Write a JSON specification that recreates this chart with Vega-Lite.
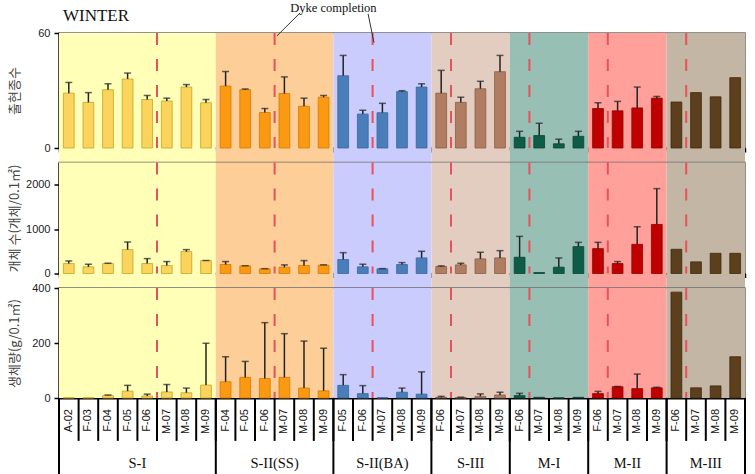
{
  "$schema": "https://vega.github.io/schema/vega-lite/v6.json",
  "padding": {"left": 7, "top": 1, "right": 5, "bottom": 0},
  "config": {
    "font": "Liberation Sans",
    "view": {"stroke": "#6e6e6e", "strokeWidth": 1.5},
    "axis": {"grid": false, "domainColor": "black", "domainWidth": 2, "tickColor": "black", "tickWidth": 1.5, "labelFont": "Liberation Sans", "labelFontSize": 11, "labelColor": "#222", "labelOverlap": false, "labelSeparation": -1000, "zindex": 1, "titleFont": "Noto Sans CJK KR", "titleFontSize": 13, "titleFontWeight": "normal", "titleColor": "#444"},
    "axisY": {"tickSize": 5, "labelPadding": 4, "minExtent": 34, "titlePadding": 4}
  },
  "datasets": {
    "st": [
      {"g": "S-I", "s": "A-02", "id": "S-I|A-02", "sp": 28.6, "spHi": 34.2, "ab": 224, "abHi": 284, "bm": 1, "bmHi": null},
      {"g": "S-I", "s": "F-03", "id": "S-I|F-03", "sp": 23.8, "spHi": 28.9, "ab": 150, "abHi": 209, "bm": 1, "bmHi": null},
      {"g": "S-I", "s": "F-04", "id": "S-I|F-04", "sp": 30.4, "spHi": 33.5, "ab": 224, "abHi": 232, "bm": 9, "bmHi": 11},
      {"g": "S-I", "s": "F-05", "id": "S-I|F-05", "sp": 36.0, "spHi": 39.1, "ab": 538, "abHi": 710, "bm": 25, "bmHi": 46},
      {"g": "S-I", "s": "F-06", "id": "S-I|F-06", "sp": 25.3, "spHi": 27.4, "ab": 224, "abHi": 336, "bm": 7.5, "bmHi": 14},
      {"g": "S-I", "s": "M-07", "id": "S-I|M-07", "sp": 24.5, "spHi": 26.0, "ab": 179, "abHi": 269, "bm": 22, "bmHi": 49},
      {"g": "S-I", "s": "M-08", "id": "S-I|M-08", "sp": 31.8, "spHi": 33.1, "ab": 493, "abHi": 538, "bm": 19, "bmHi": 36},
      {"g": "S-I", "s": "M-09", "id": "S-I|M-09", "sp": 23.6, "spHi": 25.3, "ab": 291, "abHi": 293, "bm": 47, "bmHi": 199},
      {"g": "S-II(SS)", "s": "F-04", "id": "S-II(SS)|F-04", "sp": 32.3, "spHi": 39.9, "ab": 202, "abHi": 269, "bm": 59, "bmHi": 150},
      {"g": "S-II(SS)", "s": "F-05", "id": "S-II(SS)|F-05", "sp": 30.4, "spHi": 30.8, "ab": 172, "abHi": 175, "bm": 75, "bmHi": 133},
      {"g": "S-II(SS)", "s": "F-06", "id": "S-II(SS)|F-06", "sp": 18.5, "spHi": 20.6, "ab": 105, "abHi": 108, "bm": 71, "bmHi": 274},
      {"g": "S-II(SS)", "s": "M-07", "id": "S-II(SS)|M-07", "sp": 28.4, "spHi": 37.1, "ab": 142, "abHi": 194, "bm": 75, "bmHi": 234},
      {"g": "S-II(SS)", "s": "M-08", "id": "S-II(SS)|M-08", "sp": 21.8, "spHi": 26.0, "ab": 179, "abHi": 291, "bm": 36, "bmHi": 207},
      {"g": "S-II(SS)", "s": "M-09", "id": "S-II(SS)|M-09", "sp": 26.5, "spHi": 27.4, "ab": 187, "abHi": 195, "bm": 26, "bmHi": 181},
      {"g": "S-II(BA)", "s": "F-05", "id": "S-II(BA)|F-05", "sp": 37.7, "spHi": 48.3, "ab": 314, "abHi": 470, "bm": 46, "bmHi": 85},
      {"g": "S-II(BA)", "s": "F-06", "id": "S-II(BA)|F-06", "sp": 17.7, "spHi": 19.7, "ab": 150, "abHi": 209, "bm": 16, "bmHi": 45},
      {"g": "S-II(BA)", "s": "M-07", "id": "S-II(BA)|M-07", "sp": 18.4, "spHi": 23.3, "ab": 105, "abHi": 110, "bm": 1, "bmHi": null},
      {"g": "S-II(BA)", "s": "M-08", "id": "S-II(BA)|M-08", "sp": 29.4, "spHi": 29.9, "ab": 202, "abHi": 246, "bm": 21, "bmHi": 36},
      {"g": "S-II(BA)", "s": "M-09", "id": "S-II(BA)|M-09", "sp": 31.8, "spHi": 33.5, "ab": 351, "abHi": 500, "bm": 14, "bmHi": 95},
      {"g": "S-III", "s": "F-06", "id": "S-III|F-06", "sp": 28.6, "spHi": 40.5, "ab": 157, "abHi": 172, "bm": 2.5, "bmHi": 6},
      {"g": "S-III", "s": "M-07", "id": "S-III|M-07", "sp": 23.8, "spHi": 26.5, "ab": 194, "abHi": 231, "bm": 1.5, "bmHi": 3},
      {"g": "S-III", "s": "M-08", "id": "S-III|M-08", "sp": 30.9, "spHi": 34.8, "ab": 329, "abHi": 478, "bm": 6, "bmHi": 15},
      {"g": "S-III", "s": "M-09", "id": "S-III|M-09", "sp": 39.8, "spHi": 48.3, "ab": 351, "abHi": 515, "bm": 11, "bmHi": 21},
      {"g": "M-I", "s": "F-06", "id": "M-I|F-06", "sp": 5.6, "spHi": 8.7, "ab": 366, "abHi": 836, "bm": 8.7, "bmHi": 17},
      {"g": "M-I", "s": "M-07", "id": "M-I|M-07", "sp": 6.5, "spHi": 12.9, "ab": 22, "abHi": null, "bm": 2.5, "bmHi": null},
      {"g": "M-I", "s": "M-08", "id": "M-I|M-08", "sp": 2.2, "spHi": 4.6, "ab": 142, "abHi": 351, "bm": 0.5, "bmHi": null},
      {"g": "M-I", "s": "M-09", "id": "M-I|M-09", "sp": 6.1, "spHi": 8.7, "ab": 605, "abHi": 702, "bm": 2.5, "bmHi": null},
      {"g": "M-II", "s": "F-06", "id": "M-II|F-06", "sp": 20.6, "spHi": 23.6, "ab": 560, "abHi": 702, "bm": 16, "bmHi": 24},
      {"g": "M-II", "s": "M-07", "id": "M-II|M-07", "sp": 19.4, "spHi": 24.3, "ab": 224, "abHi": 269, "bm": 41, "bmHi": 42},
      {"g": "M-II", "s": "M-08", "id": "M-II|M-08", "sp": 20.9, "spHi": 31.8, "ab": 657, "abHi": 1053, "bm": 34, "bmHi": 87},
      {"g": "M-II", "s": "M-09", "id": "M-II|M-09", "sp": 26.0, "spHi": 26.9, "ab": 1105, "abHi": 1912, "bm": 37, "bmHi": 39},
      {"g": "M-III", "s": "F-06", "id": "M-III|F-06", "sp": 24.0, "spHi": null, "ab": 545, "abHi": null, "bm": 385, "bmHi": null},
      {"g": "M-III", "s": "M-07", "id": "M-III|M-07", "sp": 28.9, "spHi": null, "ab": 262, "abHi": null, "bm": 37, "bmHi": null},
      {"g": "M-III", "s": "M-08", "id": "M-III|M-08", "sp": 26.7, "spHi": null, "ab": 455, "abHi": null, "bm": 44, "bmHi": null},
      {"g": "M-III", "s": "M-09", "id": "M-III|M-09", "sp": 36.7, "spHi": null, "ab": 455, "abHi": null, "bm": 150, "bmHi": null}
    ],
    "grp": [
      {"g": "S-I", "first": "S-I|A-02", "last": "S-I|M-09", "dyke": "S-I|M-07", "mid": "S-I|F-06"},
      {"g": "S-II(SS)", "first": "S-II(SS)|F-04", "last": "S-II(SS)|M-09", "dyke": "S-II(SS)|M-07", "mid": "S-II(SS)|M-07"},
      {"g": "S-II(BA)", "first": "S-II(BA)|F-05", "last": "S-II(BA)|M-09", "dyke": "S-II(BA)|M-07", "mid": "S-II(BA)|M-07"},
      {"g": "S-III", "first": "S-III|F-06", "last": "S-III|M-09", "dyke": "S-III|M-07", "mid": "S-III|M-08"},
      {"g": "M-I", "first": "M-I|F-06", "last": "M-I|M-09", "dyke": "M-I|M-07", "mid": "M-I|M-08"},
      {"g": "M-II", "first": "M-II|F-06", "last": "M-II|M-09", "dyke": "M-II|M-07", "mid": "M-II|M-08"},
      {"g": "M-III", "first": "M-III|F-06", "last": "M-III|M-09", "dyke": "M-III|M-07", "mid": "M-III|M-08"}
    ]
  },
  "spacing": 14.5,
  "bounds": "flush",
  "resolve": {"scale": {"x": "independent", "y": "independent", "color": "independent", "fill": "independent", "stroke": "independent"}},
  "vconcat": [
    {
      "width": 686, "height": 115,
      "layer": [
        {"data": {"name": "grp"}, "mark": {"type": "rect"},
         "encoding": {"x": {"field": "first", "type": "nominal", "bandPosition": 0}, "x2": {"field": "last", "bandPosition": 1},
                      "y": {"datum": 60, "type": "quantitative"}, "y2": {"datum": -7.4},
                      "color": {"field": "g", "type": "nominal", "scale": {"domain": ["S-I","S-II(SS)","S-II(BA)","S-III","M-I","M-II","M-III"], "range": ["#FFFFB8","#FDCE98","#CACCFD","#E3CDC0","#98BFB4","#FFA19A","#C3B6A5"]}, "legend": null}}},
        {"data": {"name": "grp"}, "mark": {"type": "rule", "color": "#E8505A", "strokeWidth": 2, "strokeDash": [12, 14]},
         "encoding": {"x": {"field": "dyke", "type": "nominal", "bandPosition": 0}, "y": {"datum": 60}, "y2": {"datum": 0}}},
        {"data": {"name": "st"}, "mark": {"type": "bar", "width": {"band": 0.55}, "strokeWidth": 0.8},
         "encoding": {
           "x": {"field": "id", "type": "nominal", "scale": {"domain": ["S-I|A-02","S-I|F-03","S-I|F-04","S-I|F-05","S-I|F-06","S-I|M-07","S-I|M-08","S-I|M-09","S-II(SS)|F-04","S-II(SS)|F-05","S-II(SS)|F-06","S-II(SS)|M-07","S-II(SS)|M-08","S-II(SS)|M-09","S-II(BA)|F-05","S-II(BA)|F-06","S-II(BA)|M-07","S-II(BA)|M-08","S-II(BA)|M-09","S-III|F-06","S-III|M-07","S-III|M-08","S-III|M-09","M-I|F-06","M-I|M-07","M-I|M-08","M-I|M-09","M-II|F-06","M-II|M-07","M-II|M-08","M-II|M-09","M-III|F-06","M-III|M-07","M-III|M-08","M-III|M-09"], "paddingInner": 0, "paddingOuter": 0},
                 "axis": {"title": null, "labels": false, "tickBand": "extent", "tickSize": 4}},
           "y": {"field": "sp", "type": "quantitative", "scale": {"domain": [0, 60], "nice": false}, "axis": {"title": "출현종수", "values": [0, 20, 40, 60], "labelOverlap": false, "labelSeparation": -1000, "format": "d"}},
           "fill": {"field": "g", "type": "nominal", "scale": {"domain": ["S-I","S-II(SS)","S-II(BA)","S-III","M-I","M-II","M-III"], "range": ["#FAD45C","#FB9A12","#4A7EBB","#B07D62","#0E5C45","#C00000","#5C3F1C"]}, "legend": null},
           "stroke": {"field": "g", "type": "nominal", "scale": {"domain": ["S-I","S-II(SS)","S-II(BA)","S-III","M-I","M-II","M-III"], "range": ["#C9A227","#D07A00","#3A6699","#8A5E48","#0A4535","#900000","#40290E"]}, "legend": null}}},
        {"data": {"name": "st"}, "transform": [{"filter": "datum.spHi != null"}], "mark": {"type": "rule", "color": "#222", "strokeWidth": 1.5},
         "encoding": {"x": {"field": "id", "type": "nominal"}, "y": {"field": "sp", "type": "quantitative"}, "y2": {"field": "spHi"}}},
        {"data": {"name": "st"}, "transform": [{"filter": "datum.spHi != null"}], "mark": {"type": "tick", "color": "#222", "size": 7, "thickness": 1.5},
         "encoding": {"x": {"field": "id", "type": "nominal"}, "y": {"field": "spHi", "type": "quantitative"}}},
        {"data": {"values": [{"t": "WINTER"}]}, "mark": {"type": "text", "font": "Liberation Serif", "fontSize": 17, "color": "#111", "align": "left", "baseline": "middle"},
         "encoding": {"x": {"datum": "S-I|A-02", "type": "nominal", "bandPosition": 0.2}, "y": {"datum": 69}, "text": {"field": "t"}}},
        {"data": {"values": [{"t": "Dyke completion"}]}, "mark": {"type": "text", "font": "Liberation Serif", "fontSize": 12.5, "color": "#111", "baseline": "middle"},
         "encoding": {"x": {"datum": "S-II(BA)|F-05", "type": "nominal", "bandPosition": 0}, "y": {"datum": 73}, "text": {"field": "t"}}},
        {"data": {"values": [{}]}, "mark": {"type": "rule", "color": "#333", "strokeWidth": 1},
         "encoding": {"x": {"datum": "S-II(SS)|M-07", "type": "nominal", "bandPosition": 0.12}, "x2": {"datum": "S-II(SS)|M-08", "bandPosition": 0.3}, "y": {"datum": 58.5}, "y2": {"datum": 70.5}}},
        {"data": {"values": [{}]}, "mark": {"type": "rule", "color": "#333", "strokeWidth": 1},
         "encoding": {"x": {"datum": "S-II(BA)|M-07", "type": "nominal", "bandPosition": 0.07}, "x2": {"datum": "S-II(BA)|F-06", "bandPosition": 0.77}, "y": {"datum": 55}, "y2": {"datum": 70}}}
      ]
    },
    {
      "width": 686, "height": 111,
      "layer": [
        {"data": {"name": "grp"}, "mark": {"type": "rect"},
         "encoding": {"x": {"field": "first", "type": "nominal", "bandPosition": 0}, "x2": {"field": "last", "bandPosition": 1},
                      "y": {"datum": 2500, "type": "quantitative"}, "y2": {"datum": -326},
                      "color": {"field": "g", "type": "nominal", "scale": {"domain": ["S-I","S-II(SS)","S-II(BA)","S-III","M-I","M-II","M-III"], "range": ["#FFFFB8","#FDCE98","#CACCFD","#E3CDC0","#98BFB4","#FFA19A","#C3B6A5"]}, "legend": null}}},
        {"data": {"name": "grp"}, "mark": {"type": "rule", "color": "#E8505A", "strokeWidth": 2, "strokeDash": [12, 14]},
         "encoding": {"x": {"field": "dyke", "type": "nominal", "bandPosition": 0}, "y": {"datum": 2500}, "y2": {"datum": 0}}},
        {"data": {"name": "st"}, "mark": {"type": "bar", "width": {"band": 0.55}, "strokeWidth": 0.8},
         "encoding": {
           "x": {"field": "id", "type": "nominal", "scale": {"domain": ["S-I|A-02","S-I|F-03","S-I|F-04","S-I|F-05","S-I|F-06","S-I|M-07","S-I|M-08","S-I|M-09","S-II(SS)|F-04","S-II(SS)|F-05","S-II(SS)|F-06","S-II(SS)|M-07","S-II(SS)|M-08","S-II(SS)|M-09","S-II(BA)|F-05","S-II(BA)|F-06","S-II(BA)|M-07","S-II(BA)|M-08","S-II(BA)|M-09","S-III|F-06","S-III|M-07","S-III|M-08","S-III|M-09","M-I|F-06","M-I|M-07","M-I|M-08","M-I|M-09","M-II|F-06","M-II|M-07","M-II|M-08","M-II|M-09","M-III|F-06","M-III|M-07","M-III|M-08","M-III|M-09"], "paddingInner": 0, "paddingOuter": 0},
                 "axis": {"title": null, "labels": false, "tickBand": "extent", "tickSize": 4}},
           "y": {"field": "ab", "type": "quantitative", "scale": {"domain": [0, 2500], "nice": false}, "axis": {"title": "개체 수(개체/0.1㎡)", "values": [0, 500, 1000, 1500, 2000, 2500], "labelOverlap": false, "labelSeparation": -1000, "format": "d"}},
           "fill": {"field": "g", "type": "nominal", "scale": {"domain": ["S-I","S-II(SS)","S-II(BA)","S-III","M-I","M-II","M-III"], "range": ["#FAD45C","#FB9A12","#4A7EBB","#B07D62","#0E5C45","#C00000","#5C3F1C"]}, "legend": null},
           "stroke": {"field": "g", "type": "nominal", "scale": {"domain": ["S-I","S-II(SS)","S-II(BA)","S-III","M-I","M-II","M-III"], "range": ["#C9A227","#D07A00","#3A6699","#8A5E48","#0A4535","#900000","#40290E"]}, "legend": null}}},
        {"data": {"name": "st"}, "transform": [{"filter": "datum.abHi != null"}], "mark": {"type": "rule", "color": "#222", "strokeWidth": 1.5},
         "encoding": {"x": {"field": "id", "type": "nominal"}, "y": {"field": "ab", "type": "quantitative"}, "y2": {"field": "abHi"}}},
        {"data": {"name": "st"}, "transform": [{"filter": "datum.abHi != null"}], "mark": {"type": "tick", "color": "#222", "size": 7, "thickness": 1.5},
         "encoding": {"x": {"field": "id", "type": "nominal"}, "y": {"field": "abHi", "type": "quantitative"}}}
      ]
    },
    {
      "width": 686, "height": 110,
      "layer": [
        {"data": {"name": "grp"}, "mark": {"type": "rect"},
         "encoding": {"x": {"field": "first", "type": "nominal", "bandPosition": 0}, "x2": {"field": "last", "bandPosition": 1},
                      "y": {"datum": 400, "type": "quantitative"}, "y2": {"datum": 0},
                      "color": {"field": "g", "type": "nominal", "scale": {"domain": ["S-I","S-II(SS)","S-II(BA)","S-III","M-I","M-II","M-III"], "range": ["#FFFFB8","#FDCE98","#CACCFD","#E3CDC0","#98BFB4","#FFA19A","#C3B6A5"]}, "legend": null}}},
        {"data": {"name": "grp"}, "mark": {"type": "rule", "color": "#E8505A", "strokeWidth": 2, "strokeDash": [12, 14]},
         "encoding": {"x": {"field": "dyke", "type": "nominal", "bandPosition": 0}, "y": {"datum": 400}, "y2": {"datum": 0}}},
        {"data": {"name": "st"}, "mark": {"type": "bar", "width": {"band": 0.55}, "strokeWidth": 0.8},
         "encoding": {
           "x": {"field": "id", "type": "nominal", "scale": {"domain": ["S-I|A-02","S-I|F-03","S-I|F-04","S-I|F-05","S-I|F-06","S-I|M-07","S-I|M-08","S-I|M-09","S-II(SS)|F-04","S-II(SS)|F-05","S-II(SS)|F-06","S-II(SS)|M-07","S-II(SS)|M-08","S-II(SS)|M-09","S-II(BA)|F-05","S-II(BA)|F-06","S-II(BA)|M-07","S-II(BA)|M-08","S-II(BA)|M-09","S-III|F-06","S-III|M-07","S-III|M-08","S-III|M-09","M-I|F-06","M-I|M-07","M-I|M-08","M-I|M-09","M-II|F-06","M-II|M-07","M-II|M-08","M-II|M-09","M-III|F-06","M-III|M-07","M-III|M-08","M-III|M-09"], "paddingInner": 0, "paddingOuter": 0},
                 "axis": {"title": null, "labels": false, "ticks": false}},
           "y": {"field": "bm", "type": "quantitative", "scale": {"domain": [0, 400], "nice": false}, "axis": {"title": "생체량(g/0.1㎡)", "values": [0, 100, 200, 300, 400], "labelOverlap": false, "labelSeparation": -1000, "format": "d"}},
           "fill": {"field": "g", "type": "nominal", "scale": {"domain": ["S-I","S-II(SS)","S-II(BA)","S-III","M-I","M-II","M-III"], "range": ["#FAD45C","#FB9A12","#4A7EBB","#B07D62","#0E5C45","#C00000","#5C3F1C"]}, "legend": null},
           "stroke": {"field": "g", "type": "nominal", "scale": {"domain": ["S-I","S-II(SS)","S-II(BA)","S-III","M-I","M-II","M-III"], "range": ["#C9A227","#D07A00","#3A6699","#8A5E48","#0A4535","#900000","#40290E"]}, "legend": null}}},
        {"data": {"name": "st"}, "transform": [{"filter": "datum.bmHi != null"}], "mark": {"type": "rule", "color": "#222", "strokeWidth": 1.5},
         "encoding": {"x": {"field": "id", "type": "nominal"}, "y": {"field": "bm", "type": "quantitative"}, "y2": {"field": "bmHi"}}},
        {"data": {"name": "st"}, "transform": [{"filter": "datum.bmHi != null"}], "mark": {"type": "tick", "color": "#222", "size": 7, "thickness": 1.5},
         "encoding": {"x": {"field": "id", "type": "nominal"}, "y": {"field": "bmHi", "type": "quantitative"}}},
        {"data": {"name": "st"}, "mark": {"type": "rule", "color": "black", "strokeWidth": 2},
         "encoding": {"x": {"field": "id", "type": "nominal", "bandPosition": 0}, "y": {"datum": 0}, "y2": {"datum": -156}}},
        {"data": {"name": "grp"}, "mark": {"type": "rule", "color": "black", "strokeWidth": 2},
         "encoding": {"x": {"field": "first", "type": "nominal", "bandPosition": 0}, "y": {"datum": 0}, "y2": {"datum": -280}}},
        {"data": {"values": [{}]}, "mark": {"type": "rule", "color": "black", "strokeWidth": 2},
         "encoding": {"x": {"datum": "M-III|M-09", "type": "nominal", "bandPosition": 1}, "y": {"datum": 0}, "y2": {"datum": -280}}},
        {"data": {"name": "st"}, "mark": {"type": "text", "angle": 270, "align": "right", "baseline": "middle", "font": "Liberation Sans", "fontSize": 11, "color": "#111"},
         "encoding": {"x": {"field": "id", "type": "nominal"}, "y": {"datum": -40}, "text": {"field": "s"}}},
        {"data": {"name": "grp"}, "transform": [{"filter": "datum.g != 'S-II(BA)'"}], "mark": {"type": "text", "baseline": "middle", "font": "Liberation Serif", "fontSize": 14.5, "color": "#111"},
         "encoding": {"x": {"field": "mid", "type": "nominal", "bandPosition": 0}, "y": {"datum": -240}, "text": {"field": "g"}}},
        {"data": {"name": "grp"}, "transform": [{"filter": "datum.g == 'S-II(BA)'"}], "mark": {"type": "text", "baseline": "middle", "font": "Liberation Serif", "fontSize": 14.5, "color": "#111"},
         "encoding": {"x": {"field": "mid", "type": "nominal", "bandPosition": 0.5}, "y": {"datum": -240}, "text": {"field": "g"}}}
      ]
    }
  ]
}
